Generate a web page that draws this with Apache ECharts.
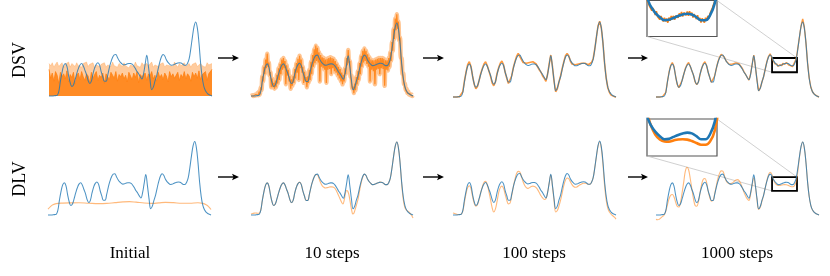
<!DOCTYPE html>
<html><head><meta charset="utf-8">
<script src="https://cdn.jsdelivr.net/npm/echarts/dist/echarts.min.js"></script>
<style>html,body{margin:0;padding:0;background:#fff}#c{width:830px;height:276px}</style>
</head><body><div id="c"></div>
<script>
// ---- data (x in 0..100 across each panel, height normalised so the tallest target peak = 1) ----
const rowLabels = ['DSV', 'DLV'];
const colLabels = ['Initial', '10 steps', '100 steps', '1000 steps'];
const zoomX = [71.2, 86.5];
const zoomY = [0.33, 0.52];

// target (blue), x = 0,1,...,100
const target = [0,0,0,0.002,0.005,0.01,0.06,0.2,0.32,0.41,
 0.44,0.4,0.28,0.18,0.13,0.15,0.22,0.3,0.37,0.42,
 0.44,0.41,0.35,0.29,0.21,0.17,0.2,0.3,0.38,0.43,
 0.45,0.42,0.33,0.26,0.2,0.2,0.28,0.38,0.46,0.52,
 0.555,0.56,0.52,0.48,0.45,0.43,0.42,0.425,0.435,0.44,
 0.44,0.43,0.405,0.37,0.33,0.3,0.26,0.23,0.3,0.43,
 0.55,0.4,0.22,0.085,0.12,0.2,0.27,0.37,0.46,0.53,
 0.56,0.54,0.49,0.455,0.432,0.416,0.418,0.428,0.438,0.446,
 0.45,0.446,0.432,0.416,0.416,0.443,0.505,0.64,0.8,0.94,
 1.0,0.92,0.72,0.45,0.25,0.13,0.07,0.04,0.02,0.01,0];

// DSV initial: dense noise, x = 0..100
const dsvInitDense = [0.36,0.24,0.31,0.2,0.33,0.28,0.17,0.32,0.26,0.3,
 0.23,0.34,0.19,0.29,0.25,0.32,0.16,0.28,0.31,0.22,
 0.33,0.26,0.21,0.3,0.27,0.18,0.32,0.24,0.29,0.33,
 0.21,0.28,0.25,0.31,0.17,0.3,0.26,0.22,0.32,0.28,
 0.24,0.33,0.2,0.29,0.26,0.31,0.23,0.28,0.19,0.32,
 0.27,0.22,0.31,0.25,0.33,0.18,0.29,0.26,0.24,0.31,
 0.21,0.3,0.27,0.33,0.23,0.28,0.2,0.32,0.25,0.29,
 0.22,0.31,0.27,0.19,0.33,0.26,0.3,0.24,0.28,0.32,
 0.21,0.29,0.25,0.33,0.23,0.3,0.27,0.2,0.32,0.26,
 0.31,0.24,0.34,0.22,0.29,0.27,0.33,0.21,0.3,0.28,0.36];
const dsvInitPeaks = [0.44,0.41,0.45,0.39,0.43,0.46,0.40,0.42,0.45,0.38,
 0.43,0.41,0.46,0.39,0.44,0.42,0.40,0.45,0.41,0.43,
 0.39,0.44,0.42,0.46,0.40,0.43,0.41,0.45,0.38,0.42,
 0.44,0.40,0.43,0.41,0.45,0.39,0.42,0.44,0.40,0.46,
 0.41,0.43,0.39,0.44,0.42,0.40,0.45,0.41,0.43,0.38,
 0.42,0.44,0.40,0.46,0.41,0.43,0.39,0.45,0.42,0.40,
 0.44,0.41,0.43,0.46,0.39,0.42,0.44,0.40,0.43,0.41,
 0.45,0.39,0.42,0.44,0.41,0.43,0.40,0.46,0.42,0.39,
 0.44,0.41,0.43,0.45,0.40,0.42,0.44,0.39,0.43,0.41,
 0.45,0.40,0.42,0.44,0.41,0.43,0.39,0.45,0.42,0.40,0.44];

// DSV 10 steps, x = 0, 0.5, 1, ..., 100
const dsv10 = [0.00,0.005, 0.01,0.00, 0.015,0.005, 0.02,0.01, 0.04,0.01,
 0.06,0.02, 0.12,0.08, 0.27,0.20, 0.40,0.30, 0.50,0.38,
 0.58,0.40, 0.46,0.28, 0.33,0.12, 0.24,0.12, 0.18,0.10,
 0.21,0.12, 0.29,0.17, 0.38,0.22, 0.44,0.30, 0.50,0.36,
 0.52,0.38, 0.48,0.16, 0.42,0.28, 0.36,0.20, 0.27,0.10,
 0.23,0.14, 0.27,0.18, 0.37,0.24, 0.45,0.32, 0.51,0.22,
 0.55,0.38, 0.50,0.32, 0.40,0.18, 0.33,0.20, 0.26,0.12,
 0.27,0.18, 0.36,0.22, 0.47,0.30, 0.56,0.40, 0.64,0.45,
 0.69,0.48, 0.66,0.46, 0.60,0.20, 0.56,0.40, 0.53,0.38,
 0.52,0.36, 0.50,0.18, 0.51,0.36, 0.52,0.37, 0.53,0.30,
 0.52,0.38, 0.51,0.34, 0.48,0.32, 0.44,0.28, 0.40,0.24,
 0.37,0.20, 0.32,0.16, 0.29,0.20, 0.38,0.30, 0.52,0.42,
 0.63,0.45, 0.48,0.26, 0.28,0.10, 0.13,0.04, 0.17,0.08,
 0.26,0.16, 0.34,0.22, 0.45,0.30, 0.55,0.40, 0.62,0.46,
 0.65,0.48, 0.62,0.44, 0.57,0.40, 0.53,0.20, 0.50,0.36,
 0.49,0.34, 0.49,0.16, 0.50,0.36, 0.51,0.37, 0.52,0.30,
 0.52,0.38, 0.52,0.37, 0.51,0.14, 0.49,0.36, 0.49,0.35,
 0.52,0.40, 0.60,0.48, 0.74,0.62, 0.92,0.78, 1.06,0.90,
 1.12,0.92, 1.02,0.76, 0.80,0.52, 0.52,0.30, 0.31,0.16,
 0.17,0.08, 0.10,0.04, 0.06,0.02, 0.03,0.01, 0.02,0.00, 0.01];

// DSV 100 steps, x = 0..100
const dsv100 = [0,0,0,0.002,0.005,0.015,0.07,0.21,0.33,0.43,
 0.47,0.41,0.28,0.17,0.11,0.14,0.22,0.31,0.38,0.44,
 0.47,0.42,0.35,0.28,0.19,0.15,0.2,0.31,0.39,0.45,
 0.48,0.43,0.33,0.25,0.18,0.18,0.28,0.39,0.47,0.54,
 0.58,0.57,0.5,0.46,0.47,0.45,0.44,0.46,0.45,0.47,
 0.45,0.44,0.4,0.36,0.33,0.28,0.25,0.21,0.3,0.44,
 0.56,0.41,0.21,0.07,0.11,0.2,0.28,0.38,0.47,0.55,
 0.58,0.55,0.48,0.44,0.42,0.43,0.45,0.44,0.46,0.45,
 0.47,0.45,0.44,0.43,0.45,0.46,0.51,0.64,0.8,0.95,
 1.01,0.92,0.72,0.45,0.25,0.12,0.06,0.025,0.01,0.005,0];

// DSV 1000 steps: x = 0..70 (step 1), 71..87 (step 0.25), 88..100 (step 1)
const dsv1000Left = [0,0,0,0.002,0.005,0.012,0.06,0.2,0.33,0.42,
 0.46,0.41,0.28,0.17,0.125,0.15,0.22,0.3,0.38,0.43,
 0.46,0.41,0.35,0.29,0.2,0.165,0.2,0.3,0.38,0.44,
 0.47,0.42,0.33,0.26,0.195,0.2,0.28,0.38,0.47,0.53,
 0.57,0.575,0.53,0.48,0.46,0.435,0.43,0.44,0.445,0.455,
 0.445,0.44,0.41,0.38,0.335,0.3,0.26,0.225,0.3,0.44,
 0.56,0.4,0.22,0.08,0.12,0.2,0.27,0.37,0.47,0.54,0.575];
const dsv1000Zoom = [0.55,0.519,0.526,0.49,0.496,0.466,0.48,0.466,0.443,0.464,
 0.436,0.446,0.419,0.438,0.425,0.409,0.429,0.41,0.424,0.403,
 0.43,0.413,0.438,0.421,0.439,0.418,0.44,0.449,0.429,0.452,
 0.436,0.46,0.435,0.456,0.461,0.442,0.462,0.439,0.463,0.442,
 0.456,0.43,0.448,0.448,0.422,0.442,0.417,0.428,0.404,0.425,
 0.417,0.404,0.429,0.413,0.439,0.425,0.453,0.449,0.482,0.477,
 0.516,0.522,0.57,0.594,0.65];
const dsv1000Right = [0.8,0.95,1.04,0.93,0.72,0.45,0.25,0.13,0.07,0.04,0.02,0.01,0];

// DLV curves
const dlvInit = [[0,0.08],[1.5,0.115],[3,0.14],[5,0.155],[9,0.162],[14,0.165],[19,0.166],[25,0.16],[31,0.155],
 [36,0.158],[41,0.168],[46,0.178],[50,0.182],[54,0.175],[59,0.163],[64,0.158],[68,0.165],[72,0.172],[77,0.168],
 [82,0.16],[87,0.16],[92,0.167],[95,0.158],[97,0.14],[98.5,0.115],[100,0.075]];
const dlv10 = [[0,0.014],[1,0.02],[2,0.026],[3,0.028],[4,0.024],[5,0.025],[6,0.065],[7,0.2],[8,0.32],[9,0.41],
 [10,0.44],[11,0.4],[12,0.28],[13,0.18],[14,0.13],[15,0.15],[16,0.22],[17,0.3],[18,0.37],[19,0.42],[20,0.44],
 [21,0.41],[22,0.35],[23,0.29],[24,0.21],[25,0.17],[26,0.2],[27,0.3],[28,0.38],[29,0.43],[30,0.45],[31,0.42],
 [32,0.33],[33,0.26],[34,0.2],[35,0.2],[36,0.28],[37,0.38],[38,0.46],[39,0.52],[40,0.555],[41,0.55],[42,0.5],
 [43,0.44],[44,0.4],[45,0.38],[46,0.37],[47,0.375],[48,0.38],[49,0.385],[50,0.385],[51,0.38],[52,0.36],[53,0.32],
 [54,0.27],[55,0.22],[56,0.17],[56.7,0.15],[57.5,0.2],[58.3,0.3],[59,0.335],[59.6,0.33],[60.3,0.29],[61,0.21],
 [61.6,0.13],[62.2,0.06],[62.8,0.015],[63.4,0.02],[64.2,0.07],[65,0.13],[66,0.21],[67,0.33],[68,0.44],[69,0.52],
 [70,0.56],[71,0.54],[72,0.49],[73,0.455],[74,0.432],[75,0.416],[76,0.418],[77,0.428],[78,0.438],[79,0.446],
 [80,0.45],[81,0.446],[82,0.432],[83,0.416],[84,0.416],[85,0.443],[86,0.505],[87,0.64],[88,0.8],[89,0.94],
 [90,1.0],[91,0.92],[92,0.72],[93,0.43],[94,0.21],[95,0.1],[96,0.065],[97,0.05],[98,0.03],[99,0.0],[100,-0.04]];
const dlv100 = [0.027,0.02,0.012,0.006,0.006,0.012,0.05,0.17,0.29,0.37,
 0.395,0.36,0.25,0.16,0.12,0.14,0.21,0.3,0.38,0.44,
 0.455,0.41,0.32,0.21,0.1,0.04,0.08,0.18,0.3,0.37,
 0.39,0.36,0.28,0.2,0.15,0.16,0.26,0.38,0.48,0.56,
 0.59,0.58,0.52,0.45,0.4,0.37,0.36,0.37,0.385,0.39,
 0.385,0.37,0.34,0.3,0.26,0.23,0.21,0.22,0.3,0.43,
 0.54,0.39,0.19,0.04,0.06,0.12,0.2,0.3,0.4,0.47,
 0.5,0.49,0.45,0.41,0.385,0.375,0.38,0.395,0.41,0.42,
 0.43,0.43,0.425,0.415,0.416,0.443,0.505,0.64,0.79,0.93,
 0.99,0.9,0.68,0.4,0.2,0.09,0.04,0.01,-0.01,-0.03,-0.055];
const dlv1000 = [-0.06,-0.065,-0.06,-0.04,-0.02,0.0,0.05,0.14,0.22,0.27,
 0.28,0.25,0.18,0.12,0.11,0.17,0.3,0.45,0.6,0.655,
 0.62,0.5,0.36,0.22,0.13,0.12,0.18,0.3,0.42,0.49,
 0.5,0.45,0.33,0.24,0.19,0.2,0.29,0.4,0.5,0.57,
 0.605,0.6,0.54,0.47,0.44,0.43,0.43,0.44,0.46,0.48,
 0.485,0.47,0.43,0.37,0.31,0.26,0.22,0.2,0.28,0.41,
 0.51,0.39,0.2,0.075,0.11,0.19,0.27,0.37,0.47,0.55,
 0.585,0.56,0.49,0.44,0.415,0.405,0.404,0.41,0.415,0.416,
 0.414,0.407,0.397,0.388,0.388,0.405,0.46,0.6,0.79,0.935,
 1.0,0.92,0.72,0.45,0.25,0.13,0.07,0.04,0.02,0.01,0];

// ---- layout (pixels) ----
const panelBoxes = [
  [49,22,163,74],[251,23,162,73],[453,22,163,75],[656,22,163,75],
  [48,141.5,163,73.5],[251,142,162,73],[453,141,163,74],[656,142,163,73]
];
const insetBoxes = [[647,0.5,70,36],[647,119,70,37]];
const colCenters = [130, 332, 534, 737];
const rowCenters = [60, 179];
const arrowRows = [58, 177];
const arrowSpans = [[218,239],[423,444],[628,648]];

const BLUE = '#1f77b4', ORANGE = '#ff7f0e';
const byStep = (arr, step, x0) => arr.map((v, i) => [x0 + i * step, v]);
const targetPts = byStep(target, 1, 0);

const grids = [], xAxes = [], yAxes = [], series = [];
panelBoxes.forEach((b, i) => {
  grids.push({left: b[0], top: b[1], width: b[2], height: b[3], show: false});
  xAxes.push({type: 'value', gridIndex: i, min: 0, max: 100, show: false});
  yAxes.push({type: 'value', gridIndex: i, min: 0, max: 1, show: false});
});
insetBoxes.forEach((b, k) => {
  const i = 8 + k;
  grids.push({left: b[0], top: b[1], width: b[2], height: b[3], show: true,
    borderColor: '#555', borderWidth: 1.2, backgroundColor: '#fff'});
  xAxes.push({type: 'value', gridIndex: i, min: zoomX[0], max: zoomX[1], show: false});
  yAxes.push({type: 'value', gridIndex: i, min: zoomY[0], max: zoomY[1], show: false});
});

function ln(gi, data, color, width, opacity, extra) {
  return Object.assign({
    type: 'line', xAxisIndex: gi, yAxisIndex: gi, data: data, symbol: 'none', showSymbol: false,
    animation: false, silent: true, clip: gi >= 8, smooth: false,
    lineStyle: {color: color, width: width, opacity: opacity}
  }, extra || {});
}
const blueMain = gi => ln(gi, targetPts, BLUE, 1.05, 0.8, {smooth: 0.4, z: 5});
const zoomMark = {silent: true, itemStyle: {color: 'rgba(0,0,0,0)', borderColor: '#000', borderWidth: 1.8},
  data: [[{coord: [zoomX[0], zoomY[1]]}, {coord: [zoomX[1], zoomY[0]]}]]};

const dsv1000Pts = byStep(dsv1000Left, 1, 0).concat(byStep(dsv1000Zoom, 0.25, 71), byStep(dsv1000Right, 1, 88));

// Row 1 : DSV
series.push(ln(0, byStep(dsvInitPeaks, 1, 0), ORANGE, 0.6, 0.4, {areaStyle: {color: ORANGE, opacity: 0.4}}));
series.push(ln(0, byStep(dsvInitDense, 1, 0), ORANGE, 0.8, 0.9, {areaStyle: {color: ORANGE, opacity: 0.85}}));
series.push(blueMain(0));
// noisy band of the 10-step reconstruction: thick translucent trace of the same samples plus the raw samples
series.push(ln(1, byStep(dsv10, 0.5, 0), ORANGE, 4.5, 0.45, {smooth: 0.3}));
series.push(ln(1, byStep(dsv10, 0.5, 0), ORANGE, 1.2, 0.85));
series.push(blueMain(1));
series.push(ln(2, byStep(dsv100, 1, 0), ORANGE, 1.6, 0.8));
series.push(blueMain(2));
series.push(ln(3, dsv1000Pts, ORANGE, 1.4, 0.8));
series.push(Object.assign(blueMain(3), {markArea: zoomMark}));
// Row 2 : DLV
series.push(ln(4, dlvInit, ORANGE, 1.1, 0.55, {smooth: 0.4}));
series.push(blueMain(4));
series.push(ln(5, dlv10, ORANGE, 1.1, 0.55, {smooth: 0.4}));
series.push(blueMain(5));
series.push(ln(6, byStep(dlv100, 1, 0), ORANGE, 1.1, 0.55, {smooth: 0.4}));
series.push(blueMain(6));
series.push(ln(7, byStep(dlv1000, 1, 0), ORANGE, 1.1, 0.55, {smooth: 0.4}));
series.push(Object.assign(blueMain(7), {markArea: zoomMark}));
// insets
series.push(ln(8, dsv1000Pts, ORANGE, 1.6, 1));
series.push(ln(8, targetPts, BLUE, 2.6, 1, {smooth: 0.4}));
series.push(ln(9, byStep(dlv1000, 1, 0), ORANGE, 2.6, 1, {smooth: 0.4}));
series.push(ln(9, targetPts, BLUE, 2.6, 1, {smooth: 0.4}));

const chart = echarts.init(document.getElementById('c'), null, {renderer: 'canvas'});
chart.setOption({backgroundColor: '#fff', animation: false, grid: grids, xAxis: xAxes, yAxis: yAxes, series: series});

// decorations
const FONT = '"Liberation Serif", "Times New Roman", serif';
const g = [];
const px = (gi, pt) => chart.convertToPixel({gridIndex: gi}, pt);
[[8, 3], [9, 7]].forEach(([ins, main]) => {
  const a1 = px(ins, [zoomX[1], zoomY[1]]), b1 = px(main, [zoomX[1], zoomY[1]]);
  const a2 = px(ins, [zoomX[0], zoomY[0]]), b2 = px(main, [zoomX[0], zoomY[0]]);
  [[a1, b1], [a2, b2]].forEach(([a, b]) => g.push({type: 'line', z: 0, silent: true,
    shape: {x1: a[0], y1: a[1], x2: b[0], y2: b[1]}, style: {stroke: '#c4c4c4', lineWidth: 0.8}}));
});
arrowRows.forEach(y => arrowSpans.forEach(([x1, x2]) => {
  g.push({type: 'line', silent: true, shape: {x1: x1, y1: y, x2: x2 - 4, y2: y}, style: {stroke: '#000', lineWidth: 1.4}});
  g.push({type: 'polygon', silent: true, shape: {points: [[x2, y], [x2 - 7, y - 3.2], [x2 - 5.5, y], [x2 - 7, y + 3.2]]}, style: {fill: '#000'}});
}));
rowLabels.forEach((t, i) => g.push({type: 'text', silent: true, x: 20.5, y: rowCenters[i], rotation: Math.PI / 2,
  style: {text: t, font: '18px ' + FONT, fill: '#000', align: 'center', verticalAlign: 'middle', textAlign: 'center', textVerticalAlign: 'middle'}}));
colLabels.forEach((t, i) => g.push({type: 'text', silent: true, x: colCenters[i], y: 254,
  style: {text: t, font: '17px ' + FONT, fill: '#000', align: 'center', verticalAlign: 'middle', textAlign: 'center', textVerticalAlign: 'middle'}}));
chart.setOption({graphic: g});
</script></body></html>
